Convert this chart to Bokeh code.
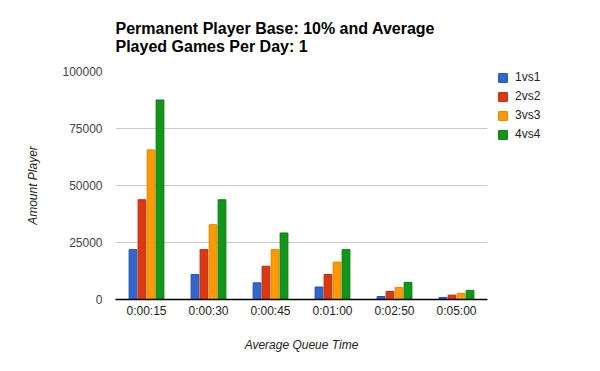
from bokeh.plotting import figure
from bokeh.models import ColumnDataSource, FactorRange, Range1d, Legend, LegendItem, FixedTicker, BasicTickFormatter, Title
from bokeh.transform import dodge
from bokeh.layouts import row
from bokeh.embed import file_html
from bokeh.resources import INLINE

categories = ["0:00:15", "0:00:30", "0:00:45", "0:01:00", "0:02:50", "0:05:00"]
series_names = ["1vs1", "2vs2", "3vs3", "4vs4"]
v1vs1 = [21875, 10937, 7292, 5469, 1300, 900]
v2vs2 = [43750, 21875, 14583, 10937, 3500, 1900]
v3vs3 = [65625, 32812, 21875, 16406, 5300, 2700]
v4vs4 = [87500, 43750, 29167, 21875, 7500, 4000]
y_ticks = [0, 25000, 50000, 75000, 100000]

fills = ["#3366cc", "#dc3912", "#ff9900", "#109618"]
lines = ["#2450b0", "#b82a0a", "#e08500", "#0b7a12"]

src = ColumnDataSource(dict(cat=categories, s1=v1vs1, s2=v2vs2, s3=v3vs3, s4=v4vs4))

FONT = "Liberation Sans"

p = figure(width=495, height=371, output_backend="svg", toolbar_location=None,
           x_range=FactorRange(*categories), y_range=Range1d(0, 100000),
           min_border_left=115, min_border_right=8, min_border_top=71, min_border_bottom=72)
p.outline_line_color = None
p.background_fill_color = "white"

t = Title(text="Permanent Player Base: 10% and Average\nPlayed Games Per Day: 1",
          text_font=FONT, text_font_size="16px", text_font_style="bold", text_color="#000000",
          align="left", standoff=33, text_line_height=1.07)
p.title = t

offsets = [-0.218, -0.073, 0.073, 0.218]
cols = ["s1", "s2", "s3", "s4"]
for c, off, fc, lc in zip(cols, offsets, fills, lines):
    p.vbar(x=dodge("cat", off, range=p.x_range), top=c, width=0.125, source=src,
           fill_color=fc, line_color=lc, line_width=1)

p.xgrid.grid_line_color = None
p.ygrid.grid_line_color = "#cccccc"
p.ygrid.ticker = FixedTicker(ticks=y_ticks)

p.yaxis.ticker = FixedTicker(ticks=y_ticks)
p.yaxis.formatter = BasicTickFormatter(use_scientific=False)
p.yaxis.axis_line_color = None
p.yaxis.major_tick_line_color = None
p.yaxis.minor_tick_line_color = None
p.yaxis.major_tick_out = 0
p.yaxis.minor_tick_out = 0
p.yaxis.major_label_text_font = FONT
p.yaxis.major_label_text_font_size = "12px"
p.yaxis.major_label_text_color = "#444444"
p.yaxis.major_label_standoff = 13
p.yaxis.axis_label = "Amount Player"
p.yaxis.axis_label_text_font = FONT
p.yaxis.axis_label_text_font_size = "12px"
p.yaxis.axis_label_text_font_style = "italic"
p.yaxis.axis_label_text_color = "#222222"
p.yaxis.axis_label_standoff = 19

p.xaxis.axis_line_color = "#000000"
p.xaxis.axis_line_width = 1.5
p.xaxis.major_tick_line_color = None
p.xaxis.minor_tick_line_color = None
p.xaxis.major_tick_out = 0
p.xaxis.minor_tick_out = 0
p.xaxis.major_label_text_font = FONT
p.xaxis.major_label_text_font_size = "12px"
p.xaxis.major_label_text_color = "#222222"
p.xaxis.major_label_standoff = 4
p.xaxis.axis_label = "Average Queue Time"
p.xaxis.axis_label_text_font = FONT
p.xaxis.axis_label_text_font_size = "12px"
p.xaxis.axis_label_text_font_style = "italic"
p.xaxis.axis_label_text_color = "#222222"
p.xaxis.axis_label_standoff = 17

# legend panel (frames are aligned across the row: frame spans y 71..299)
q = figure(width=105, height=371, output_backend="svg", toolbar_location=None,
           x_range=Range1d(0, 1), y_range=Range1d(0, 1),
           min_border_left=0, min_border_right=0, min_border_top=71, min_border_bottom=72)
q.axis.visible = False
q.grid.visible = False
q.outline_line_color = None
dummies = []
for fc, lc in zip(fills, lines):
    # placed outside the visible range: only used for the legend swatches
    dummies.append(q.vbar(x=[5], top=[5], bottom=[4], width=0.1, fill_color=fc, line_color=lc))
legend = Legend(items=[LegendItem(label=n, renderers=[r]) for n, r in zip(series_names, dummies)],
                location=(2, 158), padding=0, margin=0, border_line_color=None,
                background_fill_alpha=0, glyph_width=11, glyph_height=11, label_height=12,
                spacing=5, label_standoff=7, label_text_font=FONT, label_text_font_size="12px",
                label_text_color="#222222")
q.add_layout(legend, "center")

layout = row(p, q)
open("out.html", "w").write(file_html(layout, INLINE))
